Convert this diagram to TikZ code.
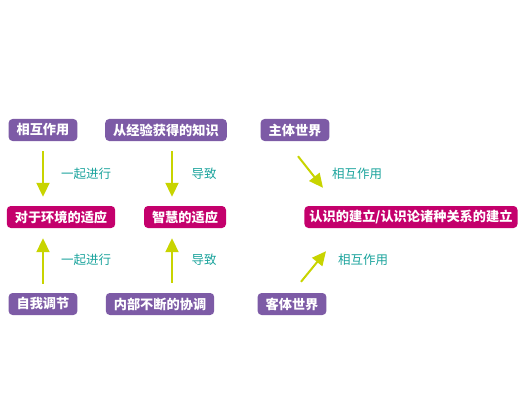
\documentclass[tikz,border=0pt]{standalone}
\usepackage{fontspec}
\setmainfont{Noto Sans CJK SC}
\usetikzlibrary{arrows.meta}
\definecolor{boxpurple}{HTML}{7D5BA6}
\definecolor{boxmagenta}{HTML}{C4006C}
\definecolor{arrowgreen}{HTML}{C8D400}
\definecolor{labelteal}{HTML}{1AA39C}
\begin{document}
\begin{tikzpicture}[x=1pt, y=-1pt, font=\fontsize{12.5}{14}\selectfont,
  cause/.style={rectangle, rounded corners=4pt, fill=boxpurple, text=white,
    font=\fontsize{13.2}{15}\selectfont\bfseries, minimum height=22pt, inner xsep=8pt, inner ysep=0pt},
  effect/.style={cause, fill=boxmagenta},
  relation/.style={text=labelteal, font=\fontsize{12.5}{14}\selectfont},
  flow/.style={draw=arrowgreen, line width=2pt, -{Triangle[width=13pt,length=14pt]}}]
\useasboundingbox (0,0) rectangle (520,420);
% top row
\node (hz) at (43,130) [cause] {相互作用};
\node (jy) at (166,130) [cause] {从经验获得的知识};
\node (zt) at (295,130) [cause] {主体世界};
% middle row
\node (hj) at (61,217) [effect] {对于环境的适应};
\node (zh) at (185,217) [effect] {智慧的适应};
\node (rs) at (411,217) [effect, inner xsep=5pt] {认识的建立/认识论诸种关系的建立};
% bottom row
\node (zw) at (43,304) [cause] {自我调节};
\node (xt) at (160,304) [cause] {内部不断的协调};
\node (kt) at (292,304) [cause] {客体世界};
% labels
\node (l1) at (86,174) [relation] {一起进行};
\node (l2) at (86,260) [relation] {一起进行};
\node (l3) at (204,174) [relation] {导致};
\node (l4) at (204,260) [relation] {导致};
\node (l5) at (357,174) [relation] {相互作用};
\node (l6) at (363,260) [relation] {相互作用};
% free ends of the slanted arrows
\coordinate (zta) at ([xshift=3pt,yshift=-15pt]zt.south);
\coordinate (rsa) at ([xshift=-88pt,yshift=18pt]rs.north);
\coordinate (kta) at ([xshift=9pt,yshift=11pt]kt.north);
\coordinate (rsb) at ([xshift=-85pt,yshift=-23pt]rs.south);
\draw [flow, shorten <=10pt, shorten >=9pt] (hz) -- (hj.north -| hz);
\draw [flow, shorten <=9pt, shorten >=10pt] (zw) -- (hj.south -| zw);
\draw [flow, shorten <=10pt, shorten >=9pt] ([xshift=6pt]jy.south) -- ([xshift=-13pt]zh.north);
\draw [flow, shorten <=10pt, shorten >=10pt] ([xshift=12pt]xt.north) -- ([xshift=-13pt]zh.south);
\draw [flow] (zta) -- (rsa);
\draw [flow] (kta) -- (rsb);
\end{tikzpicture}
\end{document}
